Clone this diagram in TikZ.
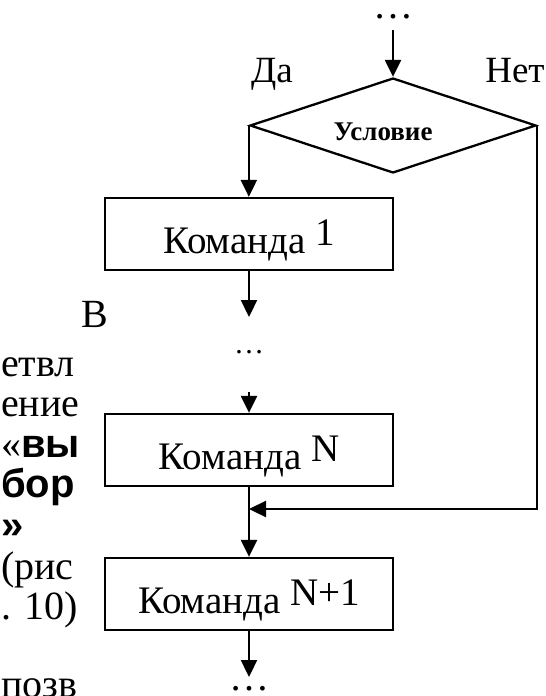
\documentclass[tikz,border=0pt]{standalone}
\usepackage{fontspec}
\setmainfont{Liberation Serif}
\setsansfont{Liberation Sans}
\usetikzlibrary{arrows.meta,shapes.geometric}

\begin{document}
\begin{tikzpicture}[x=1pt,y=-1pt,
  line width=2.3pt,
  flow/.style={-{Triangle[width=16pt,length=17pt]}},
  cmd/.style={draw, rectangle, inner sep=0pt, minimum width=288pt,
    minimum height=72pt, text height=55pt, text depth=17pt,
    font=\fontsize{39}{42}\selectfont},
  cond/.style={draw, diamond, aspect=3, inner sep=0pt, minimum width=286pt,
    minimum height=95pt, text height=30pt, text depth=0pt,
    font=\fontsize{27}{29}\selectfont\bfseries},
  lbl/.style={anchor=base, inner sep=0pt, font=\fontsize{37}{40}\selectfont},
  dots/.style={anchor=base, inner sep=0pt, text height=6pt, text depth=0pt},
  para/.style={anchor=base west, inner sep=0pt, font=\fontsize{40}{40}\selectfont},
]
\useasboundingbox (0,0) rectangle (546,696);

% flowchart blocks
\node[dots, font=\fontsize{40}{40}\selectfont] (dtop) at (393,18) {…};
\coordinate (dtopout) at (393,30);
\node[cond] (c) at (393,125.5) {Условие\hspace*{20pt}};
\node[lbl] (yes) at (272,82) {Да};
\node[lbl] (no) at (515,82) {Нет};
\node[cmd] (k1) at (249,234) {Команда \raisebox{8pt}{1}};
\coordinate (min) at (249,317);
\node[dots, font=\fontsize{30}{30}\selectfont] (dmid) at (249,353) {…};
\coordinate (mout) at (249,392);
\node[cmd] (kn) at (249,450) {Команда \raisebox{8pt}{N}};
\coordinate (mrg) at (249,509);
\node[cmd] (kn1) at (249,594) {Команда \raisebox{8pt}{N+1}};
\coordinate (bend) at (249,677);
\node[dots, font=\fontsize{40}{40}\selectfont] (dbot) at (249,690) {…};

% connectors
\draw[flow] (dtopout) -- (c.north);
\draw[flow] (c.west) -- (c.west |- k1.north);
\draw[flow] (k1.south) -- (min);
\draw[flow] (mout) -- (kn.north);
\draw[flow] (kn.south) -- (kn1.north);
\draw[flow] (c.east) |- (mrg);
\draw[flow] (kn1.south) -- (bend);

% wrapped paragraph text on the left
\node[para] (p1) at (80,327) {В};
\node[para] (p2) at (0,376) {етвл};
\node[para] (p3) at (0,416) {ение};
\node[para] (p4) at (0,457) {«{\sffamily\bfseries вы}};
\node[para] (p5) at (0,497) {\sffamily\bfseries бор};
\node[para] (p6) at (0,538) {\sffamily\bfseries »};
\node[para] (p7) at (0,579) {(рис};
\node[para] (p8) at (0,619) {. 10)};
\node[para] (p9) at (0,697) {позв};
\end{tikzpicture}
\end{document}
